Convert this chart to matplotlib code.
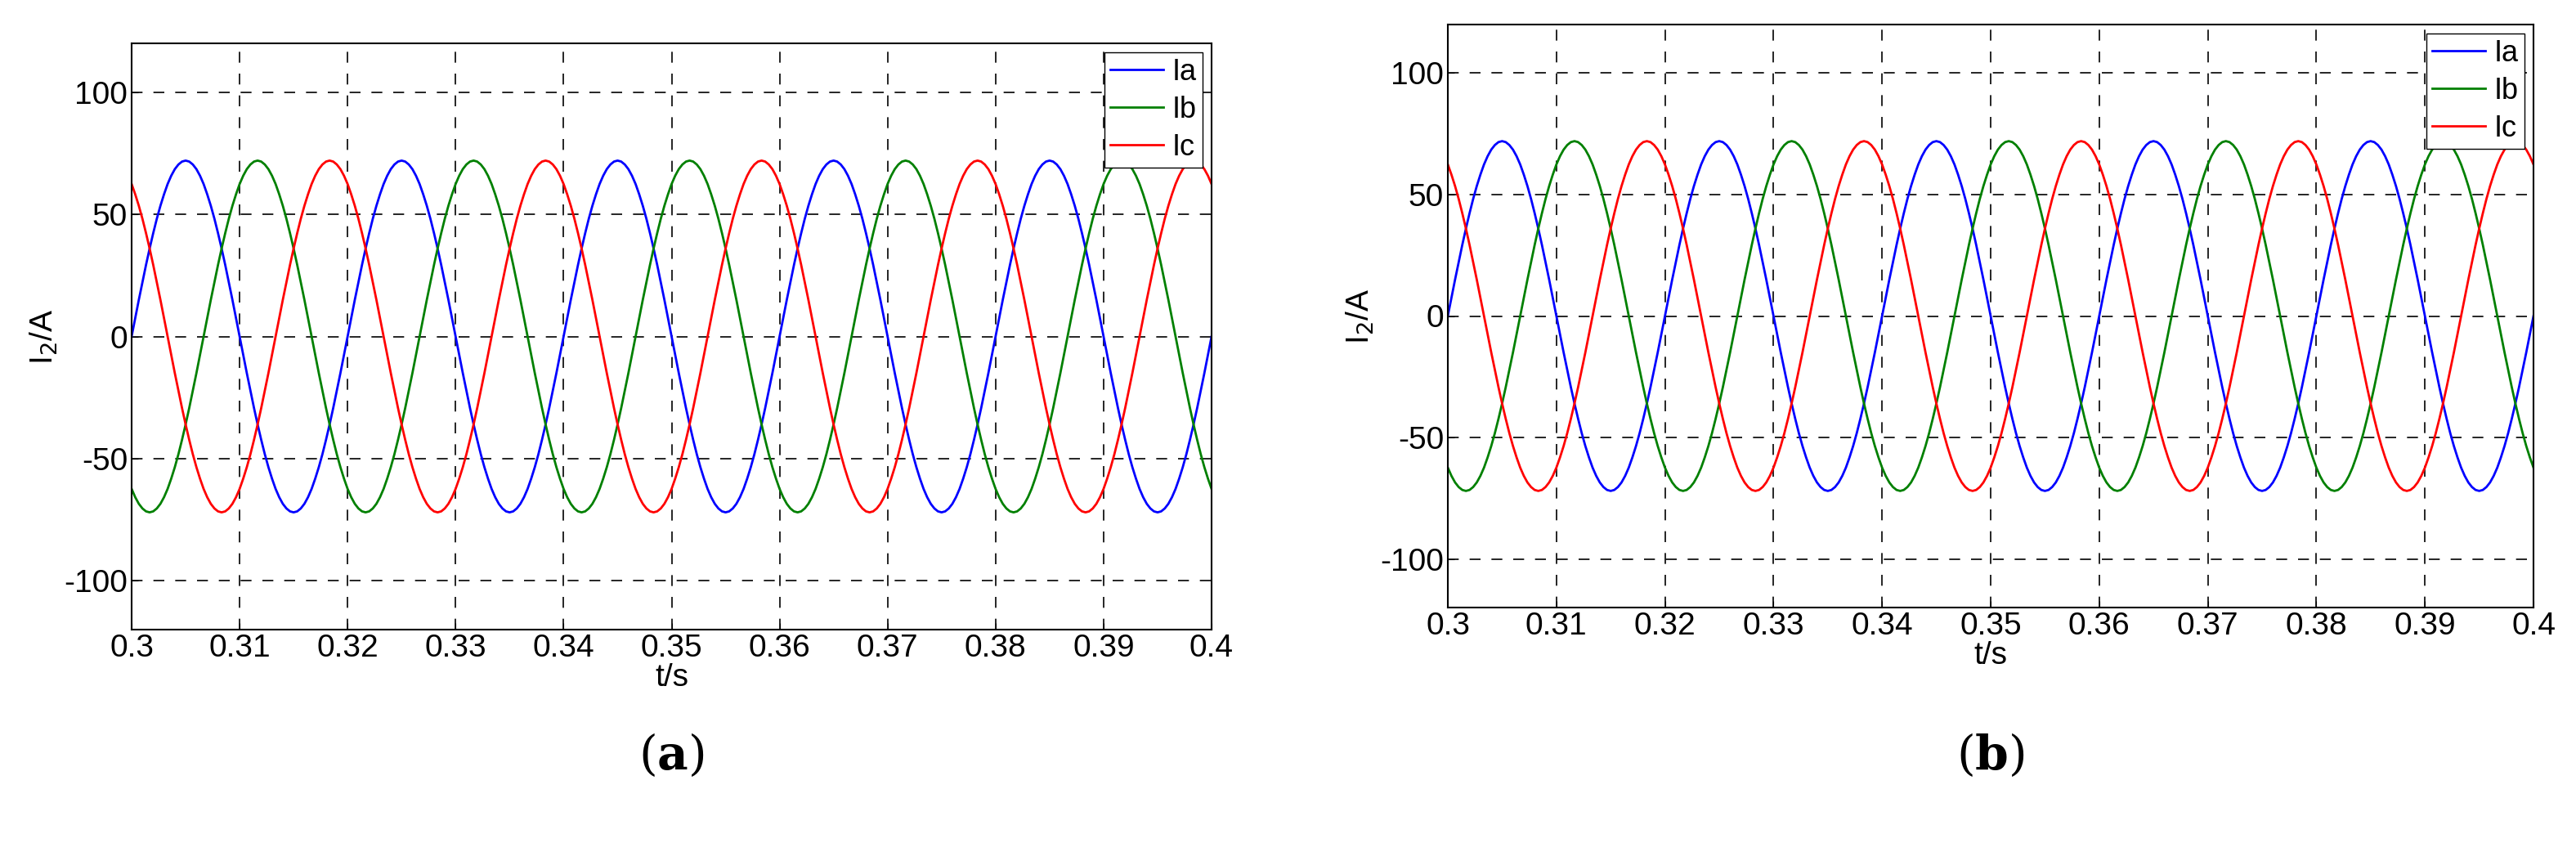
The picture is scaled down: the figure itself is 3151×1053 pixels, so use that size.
import numpy as np
import matplotlib
matplotlib.use("Agg")
import matplotlib.pyplot as plt

plt.rcParams['font.family'] = ['Liberation Sans Narrow', 'Liberation Sans', 'DejaVu Sans']
plt.rcParams['axes.unicode_minus'] = False

# one 50 Hz period of each phase current, sampled every 1/3 ms (6 deg), values in A
half_wave = [0, 7.5, 15.0, 22.2, 29.3, 36.0, 42.3, 48.2, 53.5, 58.2, 62.4, 65.8,
             68.5, 70.4, 71.6, 72.0, 71.6, 70.4, 68.5, 65.8, 62.4, 58.2, 53.5,
             48.2, 42.3, 36.0, 29.3, 22.2, 15.0, 7.5]
ia_period = half_wave + [-v for v in half_wave]
ib_period = ia_period[40:] + ia_period[:40]
ic_period = ia_period[20:] + ia_period[:20]
n_periods = 5
t_start, t_end = 0.3, 0.4

x_ticks = [0.3, 0.31, 0.32, 0.33, 0.34, 0.35, 0.36, 0.37, 0.38, 0.39, 0.4]
x_labels = ["0.3", "0.31", "0.32", "0.33", "0.34", "0.35", "0.36", "0.37", "0.38", "0.39", "0.4"]
y_ticks = [-100, -50, 0, 50, 100]
series = [("Ia", ia_period, "#0000ff"), ("Ib", ib_period, "#008000"), ("Ic", ic_period, "#ff0000")]

W, H = 3151, 1053
fig = plt.figure(figsize=(W / 100, H / 100), dpi=100)
boxes = [(161, 53, 1482, 770, "a"), (1771, 30, 3099, 743, "b")]

for x0, y0, x1, y1, tag in boxes:
    ax = fig.add_axes([x0 / W, 1 - y1 / H, (x1 - x0) / W, (y1 - y0) / H])
    for name, period, color in series:
        y = np.array(period * n_periods + [period[0]])
        t = np.linspace(t_start, t_end, len(y))
        ax.plot(t, y, color=color, lw=2.0, label=name)
    ax.set_xlim(t_start, t_end)
    ax.set_ylim(-120, 120)
    ax.set_xticks(x_ticks)
    ax.set_xticklabels(x_labels)
    ax.set_yticks(y_ticks)
    ax.tick_params(labelsize=28, direction="in", length=6)
    ax.grid(True, color="black", linestyle=(0, (8, 8)), linewidth=1.2)
    for s in ax.spines.values():
        s.set_linewidth(1.5)
    ax.set_xlabel("t/s", fontsize=28, labelpad=0)
    ax.set_ylabel("I$_2$/A", fontsize=28, labelpad=4)
    leg = ax.legend(loc="upper right", fontsize=26, fancybox=False, framealpha=1,
                    edgecolor="black", borderaxespad=0.3, handlelength=1.8,
                    labelspacing=0.3, handletextpad=0.3, borderpad=0.2)
    leg.get_frame().set_linewidth(1.0)
    fig.text((x0 + x1) / 2 / W, 1 - 924 / H, r"($\mathbf{" + tag + r"}$)", fontsize=42,
             ha="center", va="center", family="DejaVu Serif", math_fontfamily="dejavuserif")

fig.savefig("out.png", dpi=100)
